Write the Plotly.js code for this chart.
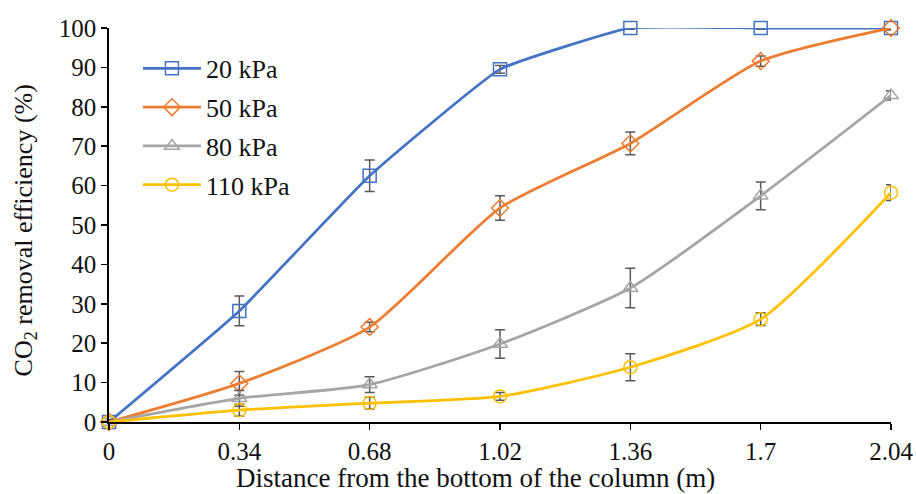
<!DOCTYPE html>
<html><head><meta charset="utf-8">
<script src="https://cdn.plot.ly/plotly-3.0.1.min.js"></script>
<style>body{margin:0;background:#fff}#c{width:916px;height:494px}</style>
</head><body><div id="c"></div>
<script>
const distance = [0, 0.34, 0.68, 1.02, 1.36, 1.7, 2.04];
const tickLabels = ["0", "0.34", "0.68", "1.02", "1.36", "1.7", "2.04"];
const seriesNames = ["20 kPa", "50 kPa", "80 kPa", "110 kPa"];
const eff20 = [0, 28.2, 62.5, 89.5, 100, 100, 100];
const err20 = [0.5, 3.8, 4.0, 1.0, 0.3, 0.3, 0.3];
const eff50 = [0, 9.8, 24.1, 54.3, 70.7, 91.6, 100];
const err50 = [0.5, 3.0, 1.2, 3.1, 2.9, 1.3, 0.5];
const eff80 = [0, 6.0, 9.5, 19.8, 34.0, 57.4, 82.9];
const err80 = [0.5, 2.0, 2.0, 3.6, 5.0, 3.5, 1.2];
const eff110 = [0, 3.0, 4.8, 6.5, 13.9, 26.1, 58.2];
const err110 = [0.5, 1.5, 1.5, 1.0, 3.4, 1.6, 2.0];
const xTitle = "Distance from the bottom of the column (m)";
const yTitle = "CO<sub>2</sub> removal efficiency (%)";

const colors = ["#4472C4", "#ED7D31", "#A5A5A5", "#FFC000"];
const symbols = ["square-open", "diamond-open", "triangle-up-open", "circle-open"];
const smooth = [0.35, 0.6, 0.6, 0.6];
const ys = [eff20, eff50, eff80, eff110];
const errs = [err20, err50, err80, err110];
const serif = "Liberation Serif, Times New Roman, serif";

const traces = ys.map((y, i) => ({
  x: distance, y: y, name: seriesNames[i], legendgroup: "g" + i,
  type: "scatter", mode: "lines+markers",
  line: {color: colors[i], width: 2.75, shape: "spline", smoothing: smooth[i]},
  marker: {symbol: symbols[i], size: 13, color: colors[i], line: {width: 1.5, color: colors[i]}},
  error_y: {type: "data", array: errs[i], visible: true, color: "#595959", thickness: 1.5, width: 5},
  cliponaxis: false
}));

const layout = {
  width: 916, height: 494,
  margin: {l: 109, r: 25, t: 28, b: 72},
  paper_bgcolor: "#fff", plot_bgcolor: "#fff",
  showlegend: true,
  legend: {x: 0.037, y: 0.957, xanchor: "left", yanchor: "top", bgcolor: "rgba(0,0,0,0)",
    itemwidth: 58, tracegroupgap: 2,
    font: {family: serif, size: 26, color: "#111"}},
  xaxis: {
    range: [0, 2.04], tickmode: "array", tickvals: distance, ticktext: tickLabels,
    showline: true, linecolor: "#000", linewidth: 1.8, ticks: "outside", ticklen: 6, tickcolor: "#000", tickwidth: 1.5,
    showgrid: false, zeroline: false,
    tickfont: {family: serif, size: 25, color: "#111"}
  },
  yaxis: {
    range: [0, 100], dtick: 10, tick0: 0,
    showline: true, linecolor: "#000", linewidth: 1.8, ticks: "outside", ticklen: 6, tickcolor: "#000", tickwidth: 1.5,
    showgrid: false, zeroline: false,
    tickfont: {family: serif, size: 25, color: "#111"}
  },
  annotations: [
    {text: xTitle, xref: "paper", yref: "paper", x: 0.469, y: -0.142, xanchor: "center", yanchor: "middle",
      showarrow: false, font: {family: serif, size: 27, color: "#111"}},
    {text: yTitle, xref: "paper", yref: "paper", x: -0.108, y: 0.485, xanchor: "center", yanchor: "middle",
      textangle: -90, showarrow: false, font: {family: serif, size: 26, color: "#111"}}
  ]
};
Plotly.newPlot("c", traces, layout, {displayModeBar: false, staticPlot: true});
</script></body></html>
